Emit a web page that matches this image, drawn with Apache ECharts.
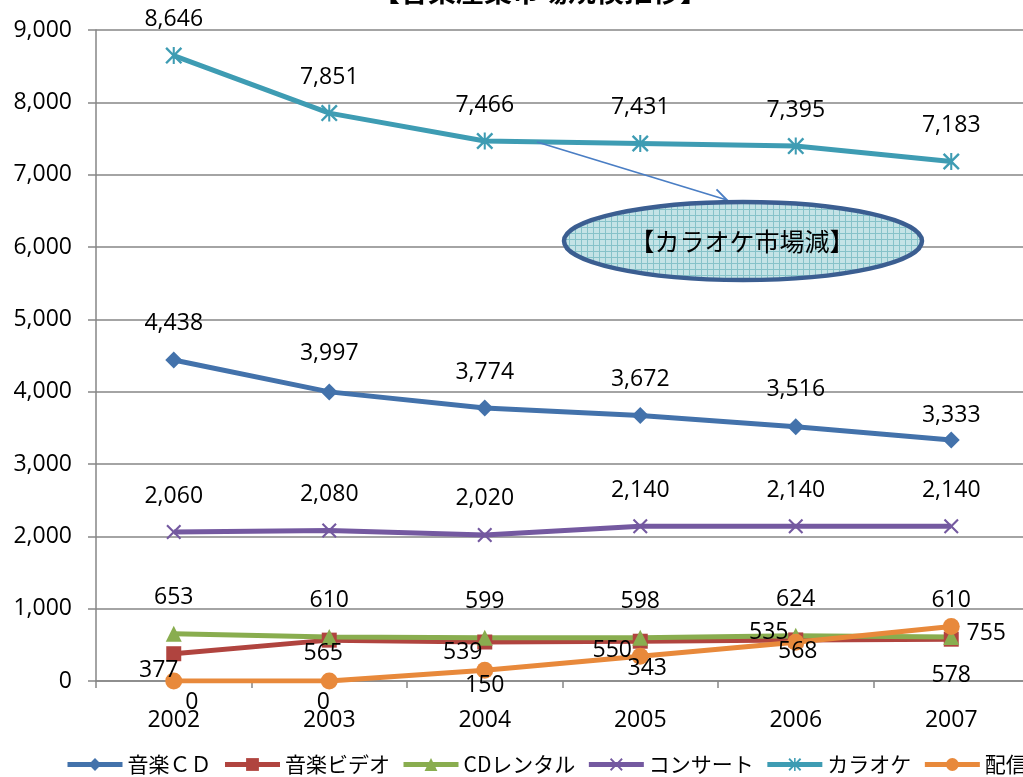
<!DOCTYPE html>
<html>
<head>
<meta charset="utf-8">
<script src="https://cdn.jsdelivr.net/npm/echarts@6/dist/echarts.min.js"></script>
<style>
  html, body { margin: 0; padding: 0; background: #fff; overflow: hidden; }
  #chart { width: 1040px; height: 777px; }
</style>
</head>
<body>
<div id="chart"></div>
<script>
const years = ["2002", "2003", "2004", "2005", "2006", "2007"];
const musicCd = [4438, 3997, 3774, 3672, 3516, 3333];
const musicVideo = [377, 565, 539, 550, 568, 578];
const cdRental = [653, 610, 599, 598, 624, 610];
const concert = [2060, 2080, 2020, 2140, 2140, 2140];
const karaoke = [8646, 7851, 7466, 7431, 7395, 7183];
const distribution = [0, 0, 150, 343, 535, 755];

// label offsets (from point centre) where the labels are not just above
const videoLabelOffset = [[-15, 17], [-6, 13], [-22, 10], [-28, 9], [2, 12], [0, 36]];
const distLabelOffset = [[18, 21], [-6, 21], [0, 15], [7, 12], [-27, -10], [35, 7]];
const cdLabelOffset = [[0, -37], [0, -38], [0, -36], [0, -36], [0, -37], [0, -24]];

const FONT = "'Open Sans', 'Noto Sans CJK JP', sans-serif";
const JP = "'Noto Sans CJK JP', sans-serif";

function fmt(v) {
  return String(v).replace(/\B(?=(\d{3})+(?!\d))/g, ",");
}

function withLabels(values, offsets) {
  return values.map((v, i) => ({
    value: v,
    label: { offset: offsets ? offsets[i] : [0, -36] },
  }));
}

const crossPath = "path://M0,1L1,0L5,4L9,0L10,1L6,5L10,9L9,10L5,6L1,10L0,9L4,5Z";
const starPath =
  "path://M0,1L1,0L5,4L9,0L10,1L6,5L10,9L9,10L5,6L1,10L0,9L4,5Z M4.4,0L5.6,0L5.6,10L4.4,10Z";

function lineSeries(name, data, color, symbol, size) {
  return {
    name: name,
    type: "line",
    data: data,
    symbol: symbol,
    symbolSize: size,
    color: color,
    lineStyle: { width: 5, color: color },
    itemStyle: { color: color },
    label: {
      show: true,
      position: "inside",
      color: "#000",
      fontSize: 23,
      fontFamily: FONT,
      formatter: (p) => fmt(p.value),
    },
    emphasis: { disabled: true },
    animation: false,
  };
}

// hatched fill for the callout
const pat = document.createElement("canvas");
pat.width = 6;
pat.height = 6;
const pctx = pat.getContext("2d");
pctx.fillStyle = "#c4e3e6";
pctx.fillRect(0, 0, 6, 6);
pctx.fillStyle = "#86c2c9";
pctx.fillRect(5, 0, 1, 6);
pctx.fillRect(0, 5, 6, 1);

// arrow
const ax1 = 537, ay1 = 142, ax2 = 727, ay2 = 200;
const ang = Math.atan2(ay2 - ay1, ax2 - ax1);
const headLen = 15;
const h1 = [ax2 - headLen * Math.cos(ang - 0.5), ay2 - headLen * Math.sin(ang - 0.5)];
const h2 = [ax2 - headLen * Math.cos(ang + 0.5), ay2 - headLen * Math.sin(ang + 0.5)];

const myChart = echarts.init(document.getElementById("chart"));
const option = {
  backgroundColor: "#fff",
  animation: false,
  grid: { left: 96, top: 30, width: 933, height: 651 },
  xAxis: {
    type: "category",
    data: years,
    axisLine: { lineStyle: { color: "#868686", width: 1.5 } },
    axisTick: { show: true, length: 7, lineStyle: { color: "#868686", width: 1.5 } },
    axisLabel: { color: "#000", fontSize: 23, fontFamily: FONT, margin: 28 },
  },
  yAxis: {
    type: "value",
    min: 0,
    max: 9000,
    interval: 1000,
    axisLine: { show: true, lineStyle: { color: "#868686", width: 1.5 } },
    axisTick: { show: true, length: 8, lineStyle: { color: "#868686", width: 1.5 } },
    splitLine: { lineStyle: { color: "#868686", width: 1.5 } },
    axisLabel: {
      color: "#000",
      fontSize: 23,
      fontFamily: FONT,
      margin: 24,
      formatter: (v) => fmt(v),
    },
  },
  legend: {
    left: 65,
    top: 754,
    width: 1000,
    padding: 0,
    itemWidth: 55,
    itemHeight: 16,
    itemGap: 11,
    lineStyle: { width: 5 },
    textStyle: { color: "#000", fontSize: 21, fontFamily: JP },
    data: ["音楽ＣＤ", "音楽ビデオ", "CDレンタル", "コンサート", "カラオケ", "配信"],
  },
  graphic: [
    {
      type: "text",
      left: 372,
      top: -23,
      style: { text: "【音楽産業市場規模推移】", fontSize: 28, fontWeight: "bold", fontFamily: JP, fill: "#000" },
      z: 100,
    },
    {
      type: "line",
      shape: { x1: ax1, y1: ay1, x2: ax2, y2: ay2 },
      style: { stroke: "#4a7ec4", lineWidth: 1.8 },
      z: 100,
    },
    {
      type: "polyline",
      shape: { points: [h1, [ax2, ay2], h2] },
      style: { stroke: "#4a7ec4", lineWidth: 1.8, fill: null },
      z: 100,
    },
    {
      type: "ellipse",
      shape: { cx: 743, cy: 241, rx: 179, ry: 39 },
      style: { fill: { image: pat, repeat: "repeat" }, stroke: "#3b5e91", lineWidth: 4.5 },
      z: 101,
    },
    {
      type: "text",
      x: 742,
      y: 241,
      style: {
        text: "【カラオケ市場減】",
        fontSize: 25,
        fontFamily: JP,
        fill: "#000",
        align: "center",
        verticalAlign: "middle",
      },
      z: 102,
    },
  ],
  series: [
    lineSeries("音楽ＣＤ", withLabels(musicCd, cdLabelOffset), "#4372ab", "diamond", 17),
    lineSeries("音楽ビデオ", withLabels(musicVideo, videoLabelOffset), "#b0443f", "rect", 15),
    lineSeries("CDレンタル", withLabels(cdRental), "#89ad4f", "triangle", 16),
    lineSeries("コンサート", withLabels(concert), "#7459a0", crossPath, 15),
    lineSeries("カラオケ", withLabels(karaoke), "#3e9cb3", starPath, 17),
    lineSeries("配信", withLabels(distribution, distLabelOffset), "#e8893b", "circle", 17),
  ],
};
myChart.setOption(option);
</script>
</body>
</html>
